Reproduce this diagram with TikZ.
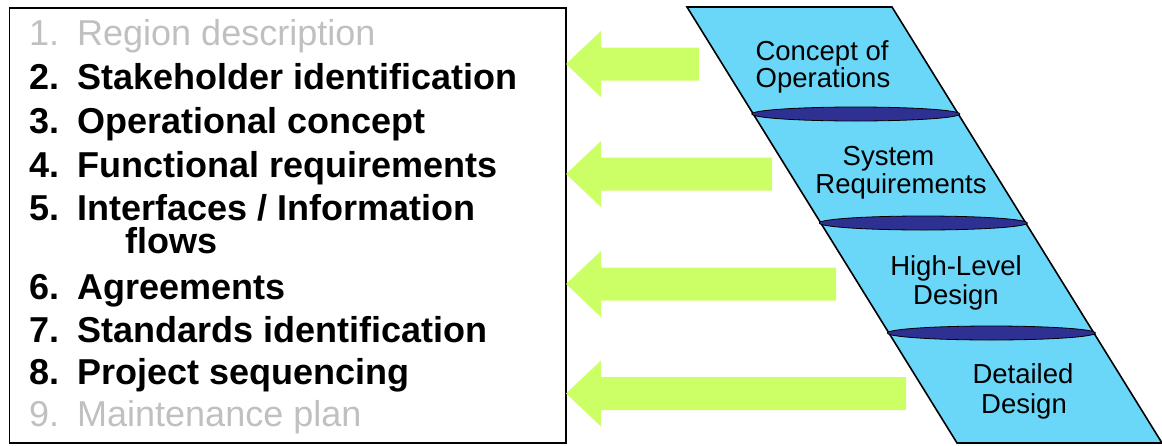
\documentclass[tikz,border=0pt]{standalone}
\usepackage{fontspec}
\setmainfont{Liberation Sans}
\usetikzlibrary{shapes.geometric}
\definecolor{lgray}{RGB}{192,192,192}
\definecolor{lime}{RGB}{204,255,102}
\definecolor{sky}{RGB}{106,215,248}
\definecolor{navy}{RGB}{46,49,146}
\begin{document}
\begin{tikzpicture}[x=1pt,y=-1pt,
  item/.style={anchor=base west,inner sep=0pt,font=\fontsize{36}{40}\selectfont\bfseries},
  dim/.style={anchor=base west,inner sep=0pt,font=\fontsize{36}{40}\selectfont,text=lgray},
  lbl/.style={anchor=base,inner sep=0pt,font=\fontsize{27.5}{30}\selectfont},
  arr/.style={fill=lime,draw=none},
  band/.style={fill=sky,draw=black,line width=1.6pt,line join=miter},
  disc/.style={ellipse,fill=navy,draw=black,line width=0.8pt,minimum width=208pt,minimum height=14pt,inner sep=0pt}]
\useasboundingbox (0,0) rectangle (1162,445);
% list box
\draw[line width=1.4pt] (9.5,8) rectangle (566,443);
\node[dim]  (i1) at (29,45)  {\makebox[48pt][l]{1.}Region description};
\node[item] (i2) at (29,89)  {\makebox[48pt][l]{2.}Stakeholder identification};
\node[item] (i3) at (29,133) {\makebox[48pt][l]{3.}Operational concept};
\node[item,text depth=0pt] (i5) at (29,220) {\makebox[48pt][l]{5.}Interfaces / Information};
\node[item] (i4) at (29,177) {\makebox[48pt][l]{4.}Functional requirements};
\node[item] (i5b) at (125,253) {flows};
\node[item] (i6) at (29,299) {\makebox[48pt][l]{6.}Agreements};
\node[item] (i7) at (29,342) {\makebox[48pt][l]{7.}Standards identification};
\node[item] (i8) at (29,384) {\makebox[48pt][l]{8.}Project sequencing};
\node[dim]  (i9) at (29,426) {\makebox[48pt][l]{9.}Maintenance plan};
% arrows
\foreach \c/\r in {64/699, 174/772, 284/836, 393.5/906}{
  \fill[arr] (566,\c) -- (601,\c-33) -- (601,\c-16.5) -- (\r,\c-16.5) -- (\r,\c+16.5)
     -- (601,\c+16.5) -- (601,\c+33) -- cycle;
}
% slanted band
\draw[band] (687,7) -- (892,7) -- (1162,443) -- (957,443) -- cycle;
\node[disc] (d1) at (855.8,114) {};
\node[disc] (d2) at (923.3,223) {};
\node[disc] (d3) at (991.4,333) {};
% labels
\node[lbl] (a1) at (822,60) {Concept of};
\node[lbl] (a2) at (823,87) {Operations};
\node[lbl] (b1) at (888.5,165) {System};
\node[lbl] (b2) at (901,193) {Requirements};
\node[lbl] (c1) at (956,275) {High-Level};
\node[lbl] (c2) at (956,304) {Design};
\node[lbl] (e1) at (1023,383) {Detailed};
\node[lbl] (e2) at (1024,413) {Design};
\end{tikzpicture}
\end{document}
